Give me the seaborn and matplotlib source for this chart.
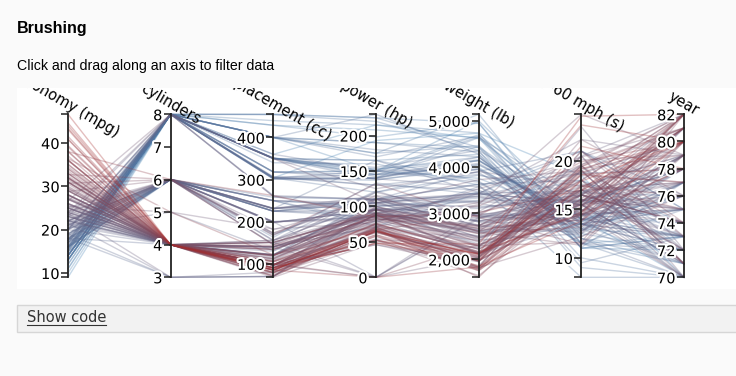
import numpy as np
import pandas as pd
import matplotlib
matplotlib.use('Agg')
import matplotlib.pyplot as plt
import matplotlib.patheffects as pe
from matplotlib.colors import LinearSegmentedColormap
from matplotlib.patches import Rectangle
from matplotlib.lines import Line2D
from matplotlib.ticker import FuncFormatter
import seaborn as sns

# cars data (one entry per car, grouped by model year)
economy = [18, 15, 14, 14, 14, 24, 22, 21, 27, 26, 25, 10, 9,
           28, 25, 19, 16, 17, 14, 14, 13, 22, 30, 31, 35, 26,
           25, 23, 13, 15, 11, 13, 19, 17, 18, 22, 28, 21, 27,
           13, 14, 12, 13, 12, 18, 16, 23, 26, 11, 18, 21, 16, 29, 24, 20,
           20, 21, 31, 26, 32, 16, 13, 14, 29, 31, 24, 16,
           19, 15, 16, 15, 14, 17, 20, 29, 23, 25, 18, 22, 33,
           28, 25, 17.5, 15.5, 14.5, 22, 24, 29, 33, 18, 29.5, 20, 16.5, 13,
           31.5, 36, 25.5, 17.5, 15.5, 20.5, 16, 15.5, 24.5, 30.5, 22, 21.5, 21.5,
           43.1, 36.1, 39.4, 19.9, 20.2, 20.2, 18.6, 17.7, 17.5, 27.5, 30.9, 23.2, 20.3, 16.2, 29.5,
           21.5, 22.3, 17, 16.5, 16.9, 15.5, 18.5, 34.1, 25.4, 23, 27.2, 23.9, 31.8, 28.8, 33.5,
           41.5, 38.1, 28, 19.1, 29.8, 46.6, 40.8, 43.4, 36.4, 44.6, 40.9, 32.7, 23.7, 23.6, 32.4,
           27.2, 25.8, 23.5, 39.1, 35.1, 37, 34.5, 32.9, 28.1, 30.7, 24.2, 22.4, 26.6, 17.6,
           28, 34, 27, 23, 36, 38, 36, 32, 25, 38, 22, 32, 44, 32, 31]

cylinders = [8, 8, 8, 8, 8, 4, 6, 6, 4, 4, 4, 8, 8,
             4, 4, 6, 6, 6, 8, 8, 8, 4, 4, 4, 4, 4,
             4, 4, 8, 8, 8, 8, 3, 8, 4, 4, 4, 4, 4,
             8, 8, 8, 8, 8, 6, 6, 6, 4, 8, 3, 6, 8, 4, 4, 6,
             6, 6, 4, 4, 4, 6, 8, 8, 4, 4, 4, 8,
             6, 6, 8, 8, 8, 6, 8, 4, 4, 4, 6, 4, 4,
             4, 4, 8, 8, 8, 6, 6, 4, 4, 6, 4, 4, 6, 8,
             4, 4, 4, 8, 8, 6, 8, 8, 4, 4, 6, 4, 3,
             4, 4, 4, 8, 8, 6, 6, 6, 8, 4, 4, 4, 5, 6, 4,
             6, 4, 8, 8, 8, 8, 8, 4, 5, 8, 4, 8, 4, 6, 4,
             4, 4, 4, 6, 4, 4, 4, 4, 5, 4, 4, 6, 3, 4, 4,
             4, 4, 6, 4, 4, 4, 4, 4, 4, 6, 6, 6, 8, 6,
             4, 4, 4, 4, 4, 4, 4, 4, 6, 6, 6, 4, 4, 4, 4]

displacement = [307, 350, 454, 455, 340, 113, 198, 200, 97, 97, 110, 360, 304,
                140, 98, 232, 225, 250, 400, 351, 400, 140, 79, 71, 72, 91,
                97.5, 97, 350, 318, 429, 400, 70, 304, 121, 121, 97, 120, 97,
                350, 302, 429, 440, 455, 225, 250, 198, 97, 400, 70, 155, 400, 68, 116, 156,
                198, 200, 79, 122, 71, 258, 350, 302, 98, 76, 120, 302,
                225, 250, 400, 350, 351, 231, 262, 97, 140, 90, 171, 121, 91,
                107, 140, 305, 304, 351, 250, 200, 85, 91, 250, 97, 130, 168, 318,
                98, 79, 122, 305, 318, 231, 400, 400, 151, 98, 146, 121, 80,
                90, 98, 85, 260, 302, 200, 225, 231, 318, 134, 105, 156, 131, 163, 98,
                231, 140, 305, 351, 350, 351, 360, 86, 183, 350, 141, 260, 85, 173, 151,
                98, 89, 151, 225, 134, 86, 85, 90, 121, 91, 85, 168, 70, 140, 107,
                135, 156, 173, 79, 81, 85, 100, 119, 141, 145, 146, 231, 350, 225,
                112, 112, 151, 151, 105, 105, 120, 91, 181, 262, 232, 144, 97, 135, 119]

power = [130, 165, 220, 225, 160, 95, 95, 85, 88, 46, 87, 215, 193,
         90, 0, 100, 105, 100, 175, 153, 175, 72, 70, 65, 69, 70,
         80, 54, 165, 150, 208, 190, 97, 150, 112, 76, 92, 87, 88,
         145, 137, 198, 215, 225, 105, 100, 95, 46, 150, 90, 107, 230, 49, 75, 122,
         95, 0, 67, 80, 65, 110, 150, 140, 83, 52, 97, 140,
         95, 72, 170, 145, 148, 110, 110, 75, 83, 71, 97, 98, 53,
         86, 92, 140, 120, 152, 105, 81, 52, 53, 78, 71, 102, 120, 150,
         68, 58, 96, 145, 145, 105, 180, 190, 88, 63, 97, 110, 110,
         48, 66, 70, 110, 139, 85, 110, 165, 140, 95, 75, 105, 103, 133, 68,
         115, 88, 130, 138, 155, 142, 150, 65, 77, 125, 71, 90, 65, 115, 90,
         76, 60, 90, 90, 90, 65, 65, 48, 67, 67, 0, 132, 100, 0, 72,
         84, 92, 110, 58, 60, 65, 0, 100, 80, 76, 120, 110, 105, 85,
         88, 88, 90, 0, 74, 63, 88, 67, 110, 85, 112, 96, 52, 84, 82]

weight = [3504, 3693, 4354, 4425, 3609, 2372, 2833, 2587, 2130, 1835, 2672, 4615, 4732,
          2264, 2046, 2634, 3439, 3329, 4464, 4154, 5140, 2408, 2074, 1773, 1613, 1955,
          2126, 2254, 4274, 4135, 4633, 4422, 2330, 3672, 2933, 2511, 2288, 2979, 2100,
          3988, 4042, 4952, 4735, 4951, 3121, 3278, 2904, 1950, 4997, 2124, 2472, 4278, 1867, 2158, 2807,
          3102, 2875, 1950, 2451, 1836, 3632, 4699, 4638, 2219, 1649, 2489, 4141,
          3264, 3432, 4668, 4440, 4657, 3907, 3221, 2171, 2639, 2223, 2984, 2945, 1795,
          2464, 2572, 4215, 3962, 4215, 3353, 3012, 2035, 1795, 3574, 1825, 3150, 3820, 3755,
          2045, 1825, 2300, 3880, 4140, 3425, 4220, 4325, 2740, 2051, 2815, 2600, 2720,
          1985, 1800, 2070, 3365, 3570, 2965, 3620, 3445, 4080, 2560, 2230, 2745, 2830, 3410, 2135,
          3245, 2890, 3840, 3955, 4360, 4054, 3940, 1975, 3530, 3900, 3190, 3420, 2020, 2595, 2556,
          2144, 1968, 2678, 3381, 2711, 2110, 2110, 2335, 2950, 1850, 1835, 2910, 2420, 2905, 2290,
          2490, 2620, 2725, 1755, 1760, 1975, 2320, 2615, 3230, 3160, 2930, 3415, 3725, 3465,
          2605, 2395, 2735, 3035, 1980, 2125, 2160, 1965, 2945, 3015, 2835, 2665, 2130, 2295, 2720]

accel = [12, 11.5, 9, 10, 8, 15, 15.5, 16, 14.5, 20.5, 17.5, 14, 18.5,
         15.5, 19, 13, 15.5, 15.5, 11.5, 13.5, 12, 19, 19.5, 19, 18, 20.5,
         17, 23.5, 12, 13.5, 11, 12.5, 13.5, 11.5, 14.5, 18, 17, 19.5, 16.5,
         13, 14.5, 11.5, 11, 11, 16.5, 18, 16, 21, 14, 13.5, 14, 9.5, 19.5, 15.5, 13.5,
         16.5, 17, 19, 16.5, 21, 18, 14.5, 16, 16.5, 16.5, 15, 14,
         16, 21, 11.5, 14, 13.5, 21, 13.5, 16, 17, 16.5, 14.5, 14.5, 17.5,
         15.5, 14.9, 13, 13.9, 12.8, 14.5, 17.6, 22.2, 17.4, 21, 12.2, 15.7, 16.7, 14,
         18.5, 18.6, 15.5, 12.5, 13.7, 16.9, 11.1, 12.2, 16, 17, 14.5, 12.8, 13.5,
         21.5, 14.4, 18.6, 15.5, 12.8, 15.8, 18.7, 13.4, 13.7, 14.2, 14.5, 16.7, 15.9, 15.8, 16.6,
         15.4, 17.3, 15.4, 13.2, 14.9, 14.3, 13, 15.2, 20.1, 17.4, 24.8, 22.2, 19.2, 11.3, 13.2,
         14.7, 18.8, 16.5, 18.7, 15.5, 17.9, 19.2, 23.7, 19.9, 13.8, 17.3, 11.4, 12.5, 14.3, 17,
         15.7, 14.4, 12.6, 16.9, 16.1, 19.4, 15.8, 14.8, 20.4, 19.6, 13.8, 15.8, 19, 16.6,
         19.6, 18, 18, 20.5, 15.3, 14.7, 14.5, 15.7, 16.4, 17, 14.7, 13.9, 24.6, 11.6, 19.4]

year = [70, 70, 70, 70, 70, 70, 70, 70, 70, 70, 70, 70, 70,
        71, 71, 71, 71, 71, 71, 71, 71, 71, 71, 71, 71, 71,
        72, 72, 72, 72, 72, 72, 72, 72, 72, 72, 72, 72, 72,
        73, 73, 73, 73, 73, 73, 73, 73, 73, 73, 73, 73, 73, 73, 73, 73,
        74, 74, 74, 74, 74, 74, 74, 74, 74, 74, 74, 74,
        75, 75, 75, 75, 75, 75, 75, 75, 75, 75, 75, 75, 75,
        76, 76, 76, 76, 76, 76, 76, 76, 76, 76, 76, 76, 76, 76,
        77, 77, 77, 77, 77, 77, 77, 77, 77, 77, 77, 77, 77,
        78, 78, 78, 78, 78, 78, 78, 78, 78, 78, 78, 78, 78, 78, 78,
        79, 79, 79, 79, 79, 79, 79, 79, 79, 79, 79, 79, 79, 79, 79,
        80, 80, 80, 80, 80, 80, 80, 80, 80, 80, 80, 80, 80, 80, 80,
        81, 81, 81, 81, 81, 81, 81, 81, 81, 81, 81, 81, 81, 81,
        82, 82, 82, 82, 82, 82, 82, 82, 82, 82, 82, 82, 82, 82, 82]

dim_names = ['economy (mpg)', 'cylinders', 'displacement (cc)', 'power (hp)',
             'weight (lb)', '0-60 mph (s)', 'year']
dim_domains = [(9, 46.6), (3, 8), (68, 455), (0, 230), (1613, 5140), (8, 24.8), (70, 82)]
dim_ticks = [[10, 20, 30, 40],
             [3, 4, 5, 6, 7, 8],
             [100, 200, 300, 400],
             [0, 50, 100, 150, 200],
             [2000, 3000, 4000, 5000],
             [10, 15, 20],
             [70, 72, 74, 76, 78, 80, 82]]

columns = [economy, cylinders, displacement, power, weight, accel, year]
for c in columns:
    assert len(c) == len(economy), len(c)

plt.rcParams['font.family'] = ['Liberation Sans', 'DejaVu Sans']

W, H = 736, 376
fig = plt.figure(figsize=(W / 100, H / 100), dpi=100, facecolor='#fafafa')


def fx(px):
    return px / W


def fy(py):
    return 1 - py / H


# pixel layout
x0, dx = 68.0, 102.67
y_top, y_bot = 114.3, 277.3
area_l, area_r, area_t, area_b = 17, 736, 88, 289

ax = fig.add_axes([fx(area_l), fy(area_b), fx(area_r) - fx(area_l), fy(area_t) - fy(area_b)])
ax.set_facecolor('white')
span = y_bot - y_top
ax.set_xlim((area_l - x0) / dx, (area_r - x0) / dx)
ax.set_ylim(-(area_b - y_bot) / span, 1 + (y_top - area_t) / span)
for s in ax.spines.values():
    s.set_visible(False)
ax.set_xticks([])
ax.set_yticks([])

# long table, one row per car and axis, normalised to each axis' domain
rows = []
for i in range(len(economy)):
    for j, col in enumerate(columns):
        lo, hi = dim_domains[j]
        rows.append({'car': i, 'pos': j, 'val': (col[i] - lo) / (hi - lo), 'mpg': economy[i]})
df = pd.DataFrame(rows)

cmap = LinearSegmentedColormap.from_list('mpg', ['steelblue', 'brown'])
sns.lineplot(data=df, x='pos', y='val', units='car', estimator=None, hue='mpg',
             palette=cmap, hue_norm=dim_domains[0], sort=False, legend=False,
             lw=1, alpha=0.3, ax=ax)
ax.set_xlabel('')
ax.set_ylabel('')

# axis titles, clipped to the chart area
for j, name in enumerate(dim_names):
    ax.text(j + 0 / dx, 1 + (y_top - 104) / span, name, rotation=-30,
            ha='center', va='center', rotation_mode='anchor', fontsize=10.5,
            family='DejaVu Sans', color='black', clip_on=True)

# one vertical axis per dimension
halo = [pe.withStroke(linewidth=3, foreground='white')]
for j in range(len(dim_names)):
    xp = x0 + dx * j
    a = fig.add_axes([fx(xp), fy(y_bot), 0.0005, fy(y_top) - fy(y_bot)])
    a.patch.set_visible(False)
    for side in ['top', 'right', 'bottom']:
        a.spines[side].set_visible(False)
    a.spines['left'].set_color('#222222')
    a.spines['left'].set_linewidth(1.3)
    a.set_xticks([])
    a.set_ylim(*dim_domains[j])
    a.set_yticks(dim_ticks[j])
    a.set_yticks(list(dim_domains[j]), minor=True)
    a.tick_params(axis='y', which='both', length=5, width=1.1, color='#222222',
                  labelsize=10.5, pad=1)
    if j == 4:
        a.yaxis.set_major_formatter(FuncFormatter(lambda v, _: f'{v:,.0f}'))
    for lbl in a.get_yticklabels():
        lbl.set_family('DejaVu Sans')
        lbl.set_path_effects(halo)

fig.text(fx(17), fy(29), 'Brushing', fontsize=11.5, fontweight='bold', va='center', ha='left')
fig.text(fx(17), fy(66), 'Click and drag along an axis to filter data', fontsize=10.2,
         va='center', ha='left')

# "Show code" bar
fig.add_artist(Rectangle((fx(17), fy(332)), fx(760) - fx(17), fy(305) - fy(332),
                         transform=fig.transFigure, facecolor='#f2f2f2',
                         edgecolor='#d6d6d6', lw=1))
t = fig.text(fx(27), fy(318), 'Show code', fontsize=10.5, color='#333333',
             family='DejaVu Sans', va='center', ha='left')
fig.canvas.draw()
bb = t.get_window_extent()
fig.add_artist(Line2D([bb.x0 / W, bb.x1 / W], [fy(325), fy(325)], transform=fig.transFigure,
                      color='#333333', lw=0.8))

fig.savefig('out.png', dpi=100, facecolor=fig.get_facecolor())
